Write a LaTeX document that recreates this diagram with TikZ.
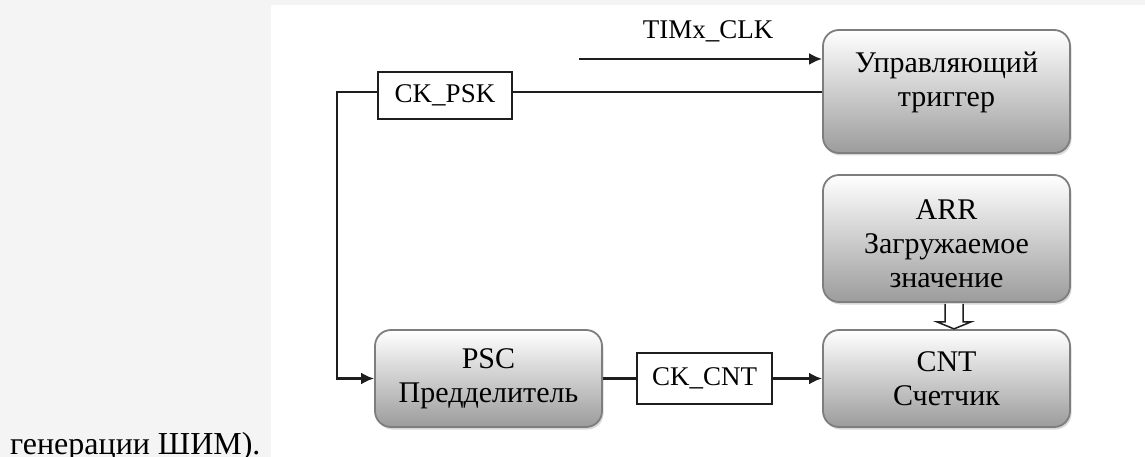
\documentclass[tikz,border=0pt]{standalone}
\usepackage{fontspec}
\setmainfont{Liberation Serif}
\usetikzlibrary{arrows.meta,shadows,calc}
\definecolor{bg}{HTML}{F4F4F4}
\definecolor{ln}{HTML}{1E1E1E}
\definecolor{bd}{HTML}{7E7E7E}
\definecolor{gbot}{HTML}{9C9C9C}
\begin{document}
\begin{tikzpicture}[x=1pt,y=-1pt,
  box/.style={draw=bd, line width=1.8pt, rounded corners=16pt, top color=white, bottom color=gbot,
    drop shadow={opacity=0.3,shadow xshift=1.5pt,shadow yshift=-2.5pt}, inner sep=0pt},
  boxtext/.style={align=center, inner sep=0pt, font=\fontsize{30}{34}\selectfont},
  tag/.style={draw=ln, line width=2.2pt, fill=white, inner sep=0pt, font=\fontsize{27}{30}\selectfont},
  wire/.style={draw=ln, line width=2.6pt},
  arrow/.style={wire, -{Latex[length=13pt,width=12pt]}},
  hollow/.style={draw=ln, fill=white, line width=1.5pt, line join=miter},
]
\useasboundingbox (0,0) rectangle (1145,457);
\fill[bg] (0,0) rectangle (1145,457);
\fill[white] (271,5) rectangle (1145,457);

% boxes
\node[box, minimum width=247pt, minimum height=123pt,
  label={[boxtext,yshift=9pt]center:{Управляющий\\триггер}}] (trig) at (946.5,91.5) {};
\node[box, minimum width=247pt, minimum height=127pt,
  label={[boxtext,yshift=-5pt]center:{ARR\\Загружаемое\\значение}}] (arr) at (946.5,238.5) {};
\node[box, boxtext, minimum width=247pt, minimum height=97pt] (cnt) at (946.5,378.5) {CNT\\Счетчик};
\node[box, boxtext, minimum width=227pt, minimum height=97pt] (psc) at (488.5,378.5) {PSC\\Предделитель};

% tags
\node[tag, minimum width=134pt, minimum height=47pt] (ckpsk) at (445,95.5) {CK\_PSK};
\node[tag, minimum width=135pt, minimum height=51pt] (ckcnt) at (704.5,378.5) {CK\_CNT};
\node[font=\fontsize{27}{30}\selectfont, inner sep=0pt] (tim) at (708,31) {TIMx\_CLK};

% connectors
\coordinate (tclk) at (579,59);
\draw[arrow] (tclk) -- (tclk -| trig.west);

\coordinate (pkE) at ([yshift=3.5pt]ckpsk.east);
\coordinate (pkW) at ([yshift=3.5pt]ckpsk.west);
\draw[wire] (pkE) -- (pkE -| trig.west);
\coordinate (lt) at (337,92);
\draw[arrow, line join=miter] (pkW) -- (lt) |- (psc.west);

\draw[wire] (psc.east) -- (ckcnt.west);
\draw[arrow] (ckcnt.east) -- (cnt.west);

% hollow arrow ARR -> CNT
\coordinate (ha) at ([xshift=7.5pt,yshift=-1pt]arr.south);
\draw[hollow] ($(ha)+(-9,0)$) -- ($(ha)+(-9,18)$) -- ($(ha)+(-17,18)$) -- ($(ha)+(0,25)$)
  -- ($(ha)+(17,18)$) -- ($(ha)+(9,18)$) -- ($(ha)+(9,0)$);

% caption fragment
\node[anchor=base west, inner sep=0pt, font=\fontsize{32}{36}\selectfont] (cap) at (10,454) {генерации ШИМ).};
\end{tikzpicture}
\end{document}
